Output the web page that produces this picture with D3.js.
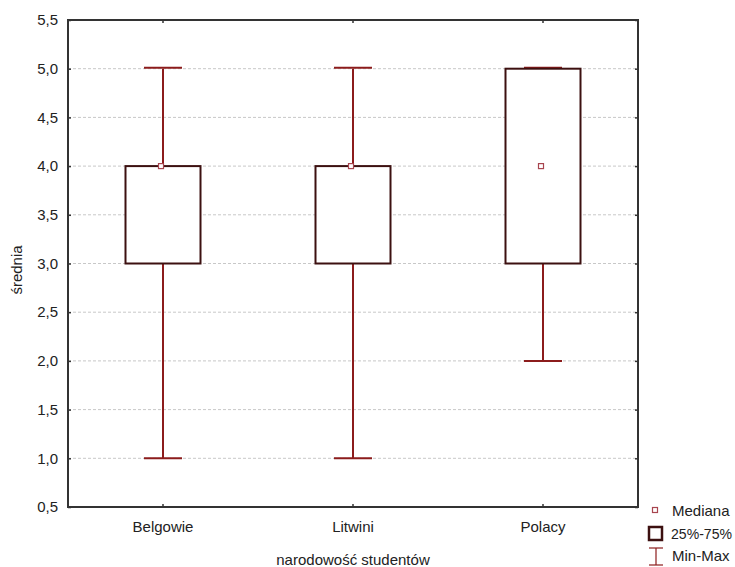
<!DOCTYPE html>
<html>
<head>
<script src="https://cdn.jsdelivr.net/npm/d3@7"></script>
<style>
  body { margin: 0; background: #fff; }
  text { font-family: "Liberation Sans", Arial, sans-serif; font-size: 15px; fill: #222; }
</style>
</head>
<body>
<div id="chart"></div>
<script>
// data
var categories = ["Belgowie", "Litwini", "Polacy"];
var mins    = [1, 1, 2];
var q1s     = [3, 3, 3];
var medians = [4, 4, 4];
var q3s     = [4, 4, 5];
var maxs    = [5, 5, 5];
var yTicks  = [0.5, 1, 1.5, 2, 2.5, 3, 3.5, 4, 4.5, 5, 5.5];

var w = 735, h = 567;
var pLeft = 68, pRight = 638, pTop = 20, pBottom = 507;
var whiskerCol = "#8c1c1c", boxCol = "#3c1010", medCol = "#a8454f";

var data = categories.map(function(c, i) {
    return {cat: c, min: mins[i], q1: q1s[i], med: medians[i], q3: q3s[i], max: maxs[i]};
});

var svg = d3.select("#chart").append("svg").attr("width", w).attr("height", h);

var x = d3.scaleBand().domain(categories).range([pLeft, pRight]);
var y = d3.scaleLinear().domain([0.5, 5.5]).range([pBottom, pTop]);
var fmt = function(d) { return d3.format(".1f")(d).replace(".", ","); };
var cx = function(d) { return x(d.cat) + x.bandwidth() / 2; };

// grid
svg.append("g").selectAll("line")
    .data(yTicks.slice(1, -1))
    .enter().append("line")
    .attr("x1", pLeft).attr("x2", pRight)
    .attr("y1", function(d) { return y(d); })
    .attr("y2", function(d) { return y(d); })
    .style("stroke", "#c8c8c8")
    .style("stroke-dasharray", "3,2");

// axes with inward ticks
var ax = svg.append("g");
ax.append("g").attr("transform", "translate(" + pLeft + ",0)")
    .call(d3.axisRight(y).tickValues(yTicks).tickSize(3).tickFormat(""));
ax.append("g").attr("transform", "translate(" + pRight + ",0)")
    .call(d3.axisLeft(y).tickValues(yTicks).tickSize(3).tickFormat(""));
ax.append("g").attr("transform", "translate(0," + pBottom + ")")
    .call(d3.axisTop(x).tickSize(3).tickFormat(""));
ax.append("g").attr("transform", "translate(0," + pTop + ")")
    .call(d3.axisBottom(x).tickSize(3).tickFormat(""));
ax.selectAll(".domain").remove();
ax.selectAll("line").style("stroke", "#333").style("stroke-width", 1.5);

// tick labels
svg.append("g").selectAll("text")
    .data(yTicks)
    .enter().append("text")
    .attr("x", 58)
    .attr("y", function(d) { return y(d); })
    .attr("dy", "0.35em")
    .attr("text-anchor", "end")
    .text(fmt);

svg.append("g").selectAll("text")
    .data(categories)
    .enter().append("text")
    .attr("x", function(d) { return x(d) + x.bandwidth() / 2; })
    .attr("y", 532)
    .attr("text-anchor", "middle")
    .text(function(d) { return d; });

// whiskers
var bw = 75, cap = 38;
var g = svg.append("g").selectAll("g").data(data).enter().append("g");
g.append("line")
    .attr("x1", cx).attr("x2", cx)
    .attr("y1", function(d) { return y(d.min); })
    .attr("y2", function(d) { return y(d.max); })
    .style("stroke", whiskerCol).style("stroke-width", 2);
g.append("line")
    .attr("x1", function(d) { return cx(d) - cap / 2; })
    .attr("x2", function(d) { return cx(d) + cap / 2; })
    .attr("y1", function(d) { return y(d.max) - 1; })
    .attr("y2", function(d) { return y(d.max) - 1; })
    .style("stroke", whiskerCol).style("stroke-width", 2);
g.append("line")
    .attr("x1", function(d) { return cx(d) - cap / 2; })
    .attr("x2", function(d) { return cx(d) + cap / 2; })
    .attr("y1", function(d) { return y(d.min); })
    .attr("y2", function(d) { return y(d.min); })
    .style("stroke", whiskerCol).style("stroke-width", 2);

// boxes
g.append("rect")
    .attr("x", function(d) { return cx(d) - bw / 2; })
    .attr("y", function(d) { return y(d.q3); })
    .attr("width", bw)
    .attr("height", function(d) { return y(d.q1) - y(d.q3); })
    .style("fill", "#fff").style("stroke", boxCol).style("stroke-width", 2);

// medians
g.append("rect")
    .attr("x", function(d) { return cx(d) - 4.5; })
    .attr("y", function(d) { return y(d.med) - 2.5; })
    .attr("width", 5).attr("height", 5)
    .style("fill", "#fff").style("stroke", medCol).style("stroke-width", 1.2);

// frame
svg.append("rect")
    .attr("x", pLeft).attr("y", pTop)
    .attr("width", pRight - pLeft).attr("height", pBottom - pTop)
    .style("fill", "none").style("stroke", "#333").style("stroke-width", 2);

// axis titles
svg.append("text")
    .attr("x", (pLeft + pRight) / 2).attr("y", 565)
    .attr("text-anchor", "middle")
    .text("narodowość studentów");
svg.append("text")
    .attr("transform", "translate(22,270) rotate(-90)")
    .attr("text-anchor", "middle")
    .text("średnia");

// legend
var lg = svg.append("g");
lg.append("rect").attr("x", 652.5).attr("y", 507.5).attr("width", 5).attr("height", 5)
    .style("fill", "#fff").style("stroke", medCol).style("stroke-width", 1.2);
lg.append("text").attr("x", 672).attr("y", 516).text("Mediana");
lg.append("rect").attr("x", 649).attr("y", 527).attr("width", 13).attr("height", 13)
    .style("fill", "#fff").style("stroke", boxCol).style("stroke-width", 2.5);
lg.append("text").attr("x", 671).attr("y", 539)
    .attr("textLength", 61).attr("lengthAdjust", "spacingAndGlyphs")
    .text("25%-75%");
lg.append("line").attr("x1", 656).attr("x2", 656).attr("y1", 548).attr("y2", 565)
    .style("stroke", whiskerCol).style("stroke-width", 1.2);
lg.append("line").attr("x1", 649).attr("x2", 663).attr("y1", 548).attr("y2", 548)
    .style("stroke", whiskerCol).style("stroke-width", 1.2);
lg.append("line").attr("x1", 649).attr("x2", 663).attr("y1", 565).attr("y2", 565)
    .style("stroke", whiskerCol).style("stroke-width", 1.2);
lg.append("text").attr("x", 672).attr("y", 561).text("Min-Max");
</script>
</body>
</html>
